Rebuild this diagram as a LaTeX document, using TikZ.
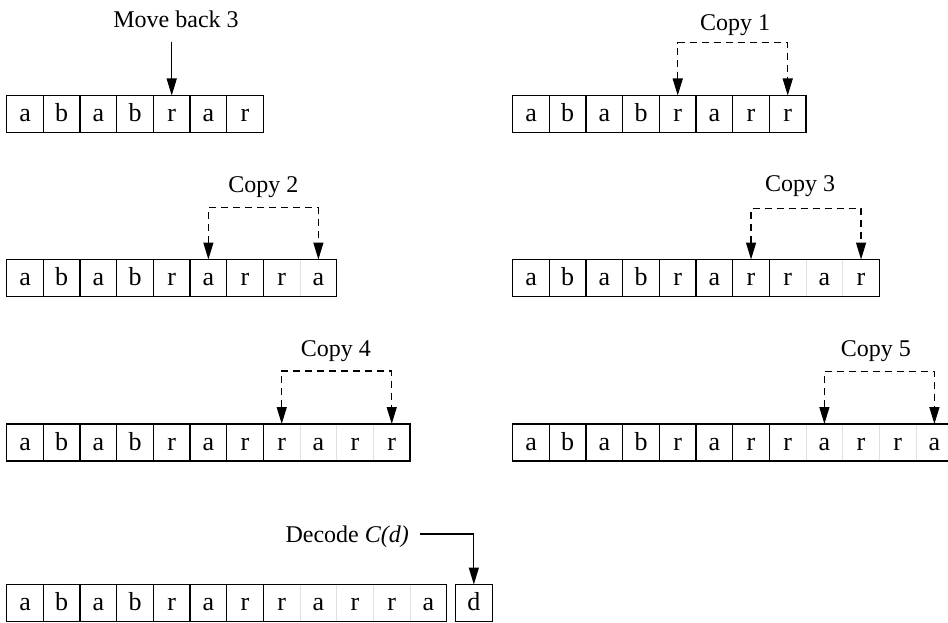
\documentclass[tikz,border=0pt]{standalone}
\usepackage{fontspec}
\setmainfont{Liberation Serif}
\usetikzlibrary{arrows.meta,calc}
\tikzset{
  cell/.style={minimum width=36.67pt, minimum height=37pt, inner sep=0pt, outer sep=0pt,
    text height=15.4pt, text depth=0pt, anchor=north west, font=\fontsize{26}{30}\selectfont},
  boxline/.style={line width=1.3pt},
  faintline/.style={line width=1pt, draw=black!12},
  solidarrow/.style={line width=1.3pt, -{Triangle[length=17pt,width=10pt]}},
  dasharrow/.style={line width=1.3pt, dash pattern=on 7pt off 5pt,
    {Triangle[length=17pt,width=10pt]}-{Triangle[length=17pt,width=10pt]}},
  lbl/.style={inner sep=0pt, anchor=base, font=\fontsize{24}{28}\selectfont}
}
\begin{document}
\begin{tikzpicture}[x=1pt,y=-1pt]
\useasboundingbox (0,0) rectangle (948,623);

% Row A (top left)
\foreach \l [count=\i] in {a,b,a,b,r,a,r}
  \node[cell] (A\i) at ({6.7+(\i-1)*36.67},95.5) {\l};
\foreach \i in {1,...,6} \draw[boxline] (A\i.north east) -- (A\i.south east);
\draw[boxline] (A1.north west) rectangle (A7.south east);
\node[lbl] (lblA) at (176,27.5) {Move back 3};
\coordinate (Atop) at (A5.north |- 0,41.7);
\draw[solidarrow] (Atop) -- (A5.north);

% Row B (top right)
\foreach \l [count=\i] in {a,b,a,b,r,a,r,r}
  \node[cell] (B\i) at ({512.7+(\i-1)*36.67},95.5) {\l};
\foreach \i in {1,...,7} \draw[boxline] (B\i.north east) -- (B\i.south east);
\draw[boxline] (B1.north west) rectangle (B8.south east);
\node[lbl] (lblB) at (735,31) {Copy 1};
\draw[dasharrow] (B5.north) -- (B5.north |- 0,42.7) -| (B8.north);

% Row C
\foreach \l [count=\i] in {a,b,a,b,r,a,r,r,a}
  \node[cell] (C\i) at ({6.7+(\i-1)*36.67},259.5) {\l};
\draw[faintline] (C8.north east) -- (C8.south east);
\foreach \i in {1,...,7} \draw[boxline] (C\i.north east) -- (C\i.south east);
\draw[boxline] (C1.north west) rectangle (C9.south east);
\node[lbl] (lblC) at (263.3,192.5) {Copy 2};
\draw[dasharrow] (C6.north) -- (C6.north |- 0,207.7) -| (C9.north);

% Row D
\foreach \l [count=\i] in {a,b,a,b,r,a,r,r,a,r}
  \node[cell] (D\i) at ({512.7+(\i-1)*36.67},259.5) {\l};
\foreach \i in {8,9} \draw[faintline] (D\i.north east) -- (D\i.south east);
\foreach \i in {1,...,7} \draw[boxline] (D\i.north east) -- (D\i.south east);
\draw[boxline] (D1.north west) rectangle (D10.south east);
\node[lbl] (lblD) at (800,191.5) {Copy 3};
\draw[dasharrow] (D7.north) -- (D7.north |- 0,208.3) -| (D10.north);

% Row E
\foreach \l [count=\i] in {a,b,a,b,r,a,r,r,a,r,r}
  \node[cell] (E\i) at ({6.7+(\i-1)*36.67},424) {\l};
\foreach \i in {8,9,10} \draw[faintline] (E\i.north east) -- (E\i.south east);
\foreach \i in {1,...,7} \draw[boxline] (E\i.north east) -- (E\i.south east);
\draw[boxline] (E1.north west) rectangle (E11.south east);
\node[lbl] (lblE) at (335.8,356) {Copy 4};
\draw[dasharrow] (E8.north) -- (E8.north |- 0,371) -| (E11.north);

% Row F
\foreach \l [count=\i] in {a,b,a,b,r,a,r,r,a,r,r,a}
  \node[cell] (F\i) at ({512.7+(\i-1)*36.67},424) {\l};
\foreach \i in {8,9,10,11} \draw[faintline] (F\i.north east) -- (F\i.south east);
\foreach \i in {1,...,7} \draw[boxline] (F\i.north east) -- (F\i.south east);
\draw[boxline] (F1.north west) rectangle (F12.south east);
\node[lbl] (lblF) at (875.8,356) {Copy 5};
\draw[dasharrow] (F9.north) -- (F9.north |- 0,371.5) -| (F12.north);

% Row G (bottom)
\foreach \l [count=\i] in {a,b,a,b,r,a,r,r,a,r,r,a}
  \node[cell] (G\i) at ({6.7+(\i-1)*36.67},584.5) {\l};
\foreach \i in {8,9,10,11} \draw[faintline] (G\i.north east) -- (G\i.south east);
\foreach \i in {1,...,7} \draw[boxline] (G\i.north east) -- (G\i.south east);
\draw[boxline] (G1.north west) rectangle (G12.south east);
\node[cell] (Gd) at (455.5,584.5) {d};
\draw[boxline] (Gd.north west) rectangle (Gd.south east);
\node[lbl, anchor=base east] (lblG) at (409,542.5) {Decode \textit{C(d)}};
\coordinate (Gstart) at (420,534);
\draw[solidarrow] (Gstart) -| (Gd.north);
\end{tikzpicture}
\end{document}
